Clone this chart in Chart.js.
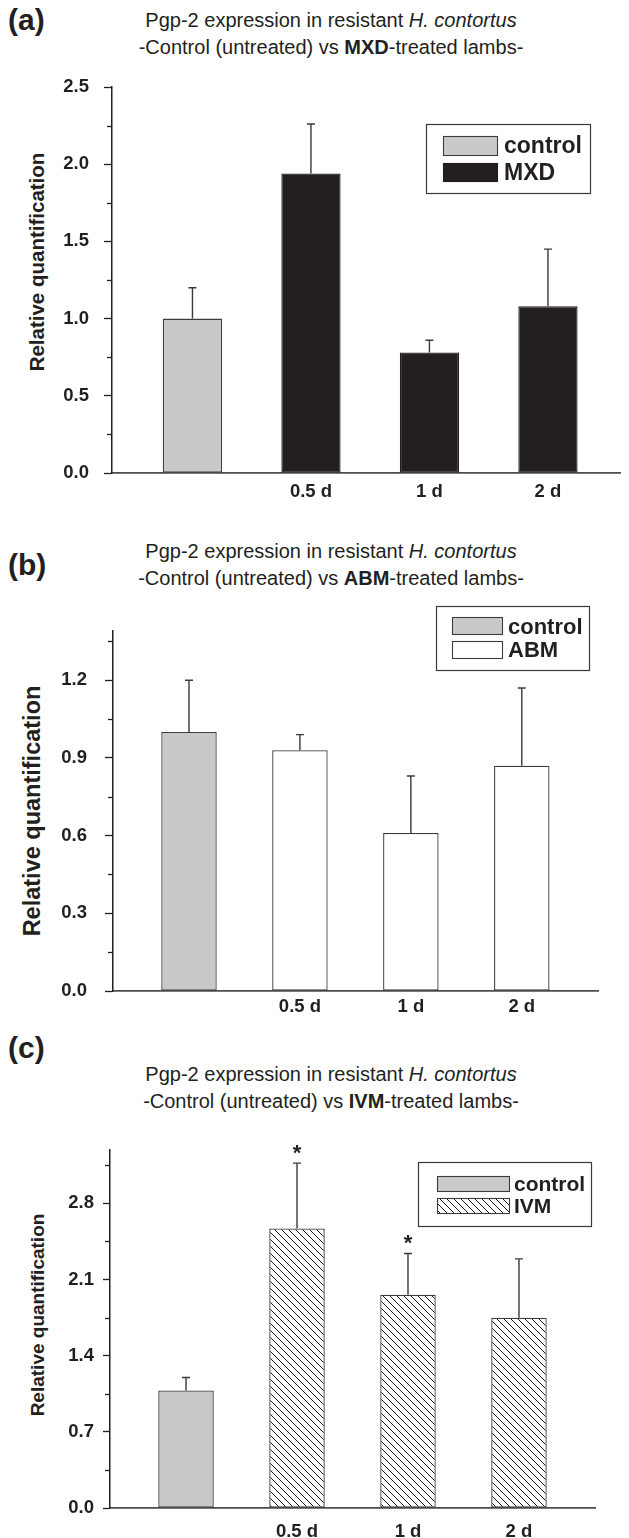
<!DOCTYPE html>
<html>
<head>
<meta charset="utf-8">
<script src="https://cdn.jsdelivr.net/npm/chart.js@4.4.1/dist/chart.umd.min.js"></script>
<style>
  html,body{margin:0;padding:0;background:#fff;}
  body{position:relative;width:629px;height:1538px;overflow:hidden;font-family:"Liberation Sans",Arial,sans-serif;color:#231f20;}
  .plabel{position:absolute;left:8px;font-weight:bold;font-size:30px;line-height:30px;}
  .title{position:absolute;left:81px;width:500px;text-align:center;font-size:20px;line-height:27px;white-space:nowrap;}
  .ytitle{position:absolute;font-weight:bold;white-space:nowrap;line-height:1;transform:translate(-50%,-50%) rotate(-90deg);}
  canvas{position:absolute;left:0;}
</style>
</head>
<body>
<div class="plabel" style="top:5px;">(a)</div>
<div class="title" style="top:7px;">Pgp-2 expression in resistant <i>H. contortus</i><br>-Control (untreated) vs <b>MXD</b>-treated lambs-</div>
<div class="ytitle" style="left:37px;top:262px;font-size:20.5px;">Relative quantification</div>
<canvas id="chartA" width="629" height="450" style="top:60px;"></canvas>

<div class="plabel" style="top:550px;">(b)</div>
<div class="title" style="top:538px;">Pgp-2 expression in resistant <i>H. contortus</i><br>-Control (untreated) vs <b>ABM</b>-treated lambs-</div>
<div class="ytitle" style="left:33px;top:811px;font-size:23.5px;">Relative quantification</div>
<canvas id="chartB" width="629" height="430" style="top:600px;"></canvas>

<div class="plabel" style="top:1033px;">(c)</div>
<div class="title" style="top:1061px;">Pgp-2 expression in resistant <i>H. contortus</i><br>-Control (untreated) vs <b>IVM</b>-treated lambs-</div>
<div class="ytitle" style="left:37px;top:1315px;font-size:19px;">Relative quantification</div>
<canvas id="chartC" width="629" height="408" style="top:1130px;"></canvas>

<script>
// ---------------- DATA ----------------
const xCategories = ['control', '0.5 d', '1 d', '2 d'];
const xTickLabels = ['', '0.5 d', '1 d', '2 d'];

// (a) MXD
const controlMeanA = [1.00];
const controlErrA  = [0.20];
const mxdMean = [1.94, 0.78, 1.08];
const mxdErr  = [0.32, 0.08, 0.37];

// (b) ABM
const controlMeanB = [1.00];
const controlErrB  = [0.20];
const abmMean = [0.93, 0.61, 0.87];
const abmErr  = [0.06, 0.22, 0.30];

// (c) IVM
const controlMeanC = [1.08];
const controlErrC  = [0.12];
const ivmMean = [2.57, 1.96, 1.75];
const ivmErr  = [0.60, 0.38, 0.54];
const ivmSignificant = [true, true, false];

// y tick values (major labelled, minor unlabelled)
const yTicksA = [0, 0.25, 0.5, 0.75, 1.0, 1.25, 1.5, 1.75, 2.0, 2.25, 2.5];
const yMajorStepA = 0.5;
const yTicksB = [0, 0.15, 0.3, 0.45, 0.6, 0.75, 0.9, 1.05, 1.2, 1.35];
const yMajorStepB = 0.3;
const yTicksC = [0, 0.35, 0.7, 1.05, 1.4, 1.75, 2.1, 2.45, 2.8, 3.15];
const yMajorStepC = 0.7;

// ---------------- STYLE ----------------
const FONT = '"Liberation Sans", Arial, sans-serif';
const INK = '#231f20';
Chart.defaults.font.family = FONT;
Chart.defaults.color = INK;

function hatchPattern() {
  const c = document.createElement('canvas');
  const s = 7;
  c.width = s; c.height = s;
  const g = c.getContext('2d');
  g.fillStyle = '#ffffff';
  g.fillRect(0, 0, s, s);
  g.strokeStyle = '#1a1a1a';
  g.lineWidth = 1;
  g.beginPath();
  g.moveTo(-1, -1); g.lineTo(s + 1, s + 1);
  g.moveTo(-1, s - 1); g.lineTo(1, s + 1);
  g.moveTo(s - 1, -1); g.lineTo(s + 1, 1);
  g.stroke();
  return g.createPattern(c, 'repeat');
}
const HATCH = hatchPattern();

function isMajor(v, step) {
  const r = v / step;
  return Math.abs(r - Math.round(r)) < 1e-6;
}

function makePanel(p) {
  const ctrlDs = {
    label: 'control',
    data: p.control.map((v, i) => ({ x: i + 1, y: v })),
    err: p.controlErr,
    backgroundColor: '#c8c9cb',
    borderColor: '#3c3c3c',
    borderWidth: 1.3,
    borderSkipped: false,
    grouped: false,
    barPercentage: 0.5,
    categoryPercentage: 1.0
  };
  const trtDs = {
    label: p.treatLabel,
    data: p.treat.map((v, i) => ({ x: xCategories.indexOf(xCategories[i + 1]) + 1, y: v })),
    err: p.treatErr,
    sig: p.sig || null,
    backgroundColor: p.treatFill,
    borderColor: p.treatBorder,
    borderWidth: 1.3,
    borderSkipped: false,
    grouped: false,
    barPercentage: 0.5,
    categoryPercentage: 1.0
  };

  const extras = {
    id: 'extras' + p.id,
    afterDatasetsDraw(chart) {
      const ctx = chart.ctx;
      const ys = chart.scales.y;
      ctx.save();
      chart.data.datasets.forEach((ds, di) => {
        const meta = chart.getDatasetMeta(di);
        meta.data.forEach((bar, i) => {
          const top = ds.data[i].y + ds.err[i];
          const yt = ys.getPixelForValue(top);
          ctx.strokeStyle = '#3a3a3a';
          ctx.lineWidth = 1.4;
          ctx.beginPath();
          ctx.moveTo(bar.x, bar.y);
          ctx.lineTo(bar.x, yt);
          ctx.moveTo(bar.x - 4, yt);
          ctx.lineTo(bar.x + 4, yt);
          ctx.stroke();
          if (ds.sig && ds.sig[i]) {
            ctx.fillStyle = INK;
            ctx.font = 'bold 22px ' + FONT;
            ctx.textAlign = 'center';
            ctx.textBaseline = 'alphabetic';
            ctx.fillText('*', bar.x, yt - 3);
          }
        });
      });
      ctx.restore();
    },
    afterDraw(chart) {
      const ctx = chart.ctx;
      const ys = chart.scales.y;
      ctx.save();
      // minor ticks
      ctx.strokeStyle = INK;
      ctx.lineWidth = 1.3;
      ys.ticks.forEach(t => {
        if (!isMajor(t.value, p.majorStep)) {
          const py = Math.round(ys.getPixelForValue(t.value)) + 0.5;
          ctx.beginPath();
          ctx.moveTo(ys.right - 5, py);
          ctx.lineTo(ys.right, py);
          ctx.stroke();
        }
      });
      // legend
      const L = p.legend;
      ctx.strokeStyle = '#3a3a3a';
      ctx.lineWidth = 1.2;
      ctx.strokeRect(L.x + 0.5, L.y + 0.5, L.w, L.h);
      const items = [
        { text: 'control', fill: '#c8c9cb', border: '#3c3c3c' },
        { text: p.treatLabel, fill: p.treatFill, border: p.treatBorder }
      ];
      items.forEach((it, k) => {
        const r = L.rows[k];
        ctx.fillStyle = it.fill;
        ctx.fillRect(L.sx, r.sy, L.sw, r.sh);
        ctx.strokeStyle = it.border;
        ctx.lineWidth = 1.1;
        ctx.strokeRect(L.sx + 0.5, r.sy + 0.5, L.sw, r.sh);
        ctx.fillStyle = INK;
        ctx.font = 'bold ' + L.fs + 'px ' + FONT;
        ctx.textAlign = 'left';
        ctx.textBaseline = 'alphabetic';
        ctx.fillText(it.text, L.tx, r.ty);
      });
      ctx.restore();
    }
  };

  return new Chart(document.getElementById(p.id), {
    type: 'bar',
    data: { datasets: [ctrlDs, trtDs] },
    plugins: [extras],
    options: {
      responsive: false,
      animation: false,
      layout: { padding: { top: p.padTop, right: p.padRight, left: 0, bottom: 0 } },
      plugins: { legend: { display: false }, tooltip: { enabled: false } },
      scales: {
        x: {
          type: 'linear',
          offset: false,
          min: p.xMin,
          max: p.xMax,
          afterBuildTicks: s => { s.ticks = xCategories.map((c, i) => ({ value: i + 1 })); },
          afterFit: s => { s.height = p.xHeight; },
          ticks: {
            callback: v => xTickLabels[Math.round(v) - 1],
            font: { size: 18.5, weight: 'bold' },
            color: INK,
            padding: p.xPad,
            autoSkip: false,
            maxRotation: 0
          },
          grid: { display: false, drawTicks: false, offset: false },
          border: { display: true, color: '#4d4d4d', width: 1.8 }
        },
        y: {
          min: 0,
          max: p.yMax,
          afterBuildTicks: s => { s.ticks = p.yTicks.map(v => ({ value: v })); },
          afterFit: s => { s.width = p.yWidth; },
          ticks: {
            callback: v => isMajor(v, p.majorStep) ? v.toFixed(1) : '',
            font: { size: 18.5, weight: 'bold' },
            color: INK,
            padding: p.yPad,
            autoSkip: false
          },
          grid: {
            display: true,
            drawOnChartArea: false,
            drawTicks: true,
            tickLength: p.tickLen,
            tickWidth: 1.3,
            tickColor: c => (c.tick && isMajor(c.tick.value, p.majorStep)) ? INK : 'rgba(0,0,0,0)'
          },
          border: { display: true, color: INK, width: 1.5 }
        }
      }
    }
  });
}

makePanel({
  id: 'chartA', control: controlMeanA, controlErr: controlErrA,
  treat: mxdMean, treatErr: mxdErr, treatLabel: 'MXD',
  treatFill: '#231f20', treatBorder: '#231f20',
  yTicks: yTicksA, majorStep: yMajorStepA, yMax: 2.5,
  xMin: 0.321, xMax: 4.608,
  padTop: 27, padRight: 9, yWidth: 112, xHeight: 37, xPad: 8, yPad: 15, tickLen: 8,
  legend: { x: 426, y: 64, w: 164, h: 69, sx: 443, sw: 54, tx: 504, fs: 23,
            rows: [{ sy: 76, sh: 19, ty: 93 }, { sy: 103, sh: 18, ty: 120 }] }
});

makePanel({
  id: 'chartB', control: controlMeanB, controlErr: controlErrB,
  treat: abmMean, treatErr: abmErr, treatLabel: 'ABM',
  treatFill: '#ffffff', treatBorder: '#3c3c3c',
  yTicks: yTicksB, majorStep: yMajorStepB, yMax: 1.39,
  xMin: 0.315, xMax: 4.687,
  padTop: 31, padRight: 31, yWidth: 113, xHeight: 39, xPad: 5, yPad: 18, tickLen: 8,
  legend: { x: 436, y: 6, w: 153, h: 64, sx: 452, sw: 50, tx: 508, fs: 22,
            rows: [{ sy: 17, sh: 17, ty: 34 }, { sy: 41, sh: 17, ty: 57 }] }
});

makePanel({
  id: 'chartC', control: controlMeanC, controlErr: controlErrC,
  treat: ivmMean, treatErr: ivmErr, treatLabel: 'IVM', sig: ivmSignificant,
  treatFill: HATCH, treatBorder: '#3c3c3c',
  yTicks: yTicksC, majorStep: yMajorStepC, yMax: 3.29,
  xMin: 0.315, xMax: 4.685,
  padTop: 18, padRight: 34, yWidth: 110, xHeight: 30, xPad: 13, yPad: 9, tickLen: 7,
  legend: { x: 418, y: 32, w: 173, h: 64, sx: 437, sw: 72, tx: 514, fs: 21,
            rows: [{ sy: 46, sh: 15, ty: 61 }, { sy: 68, sh: 15, ty: 83 }] }
});
</script>
</body>
</html>
